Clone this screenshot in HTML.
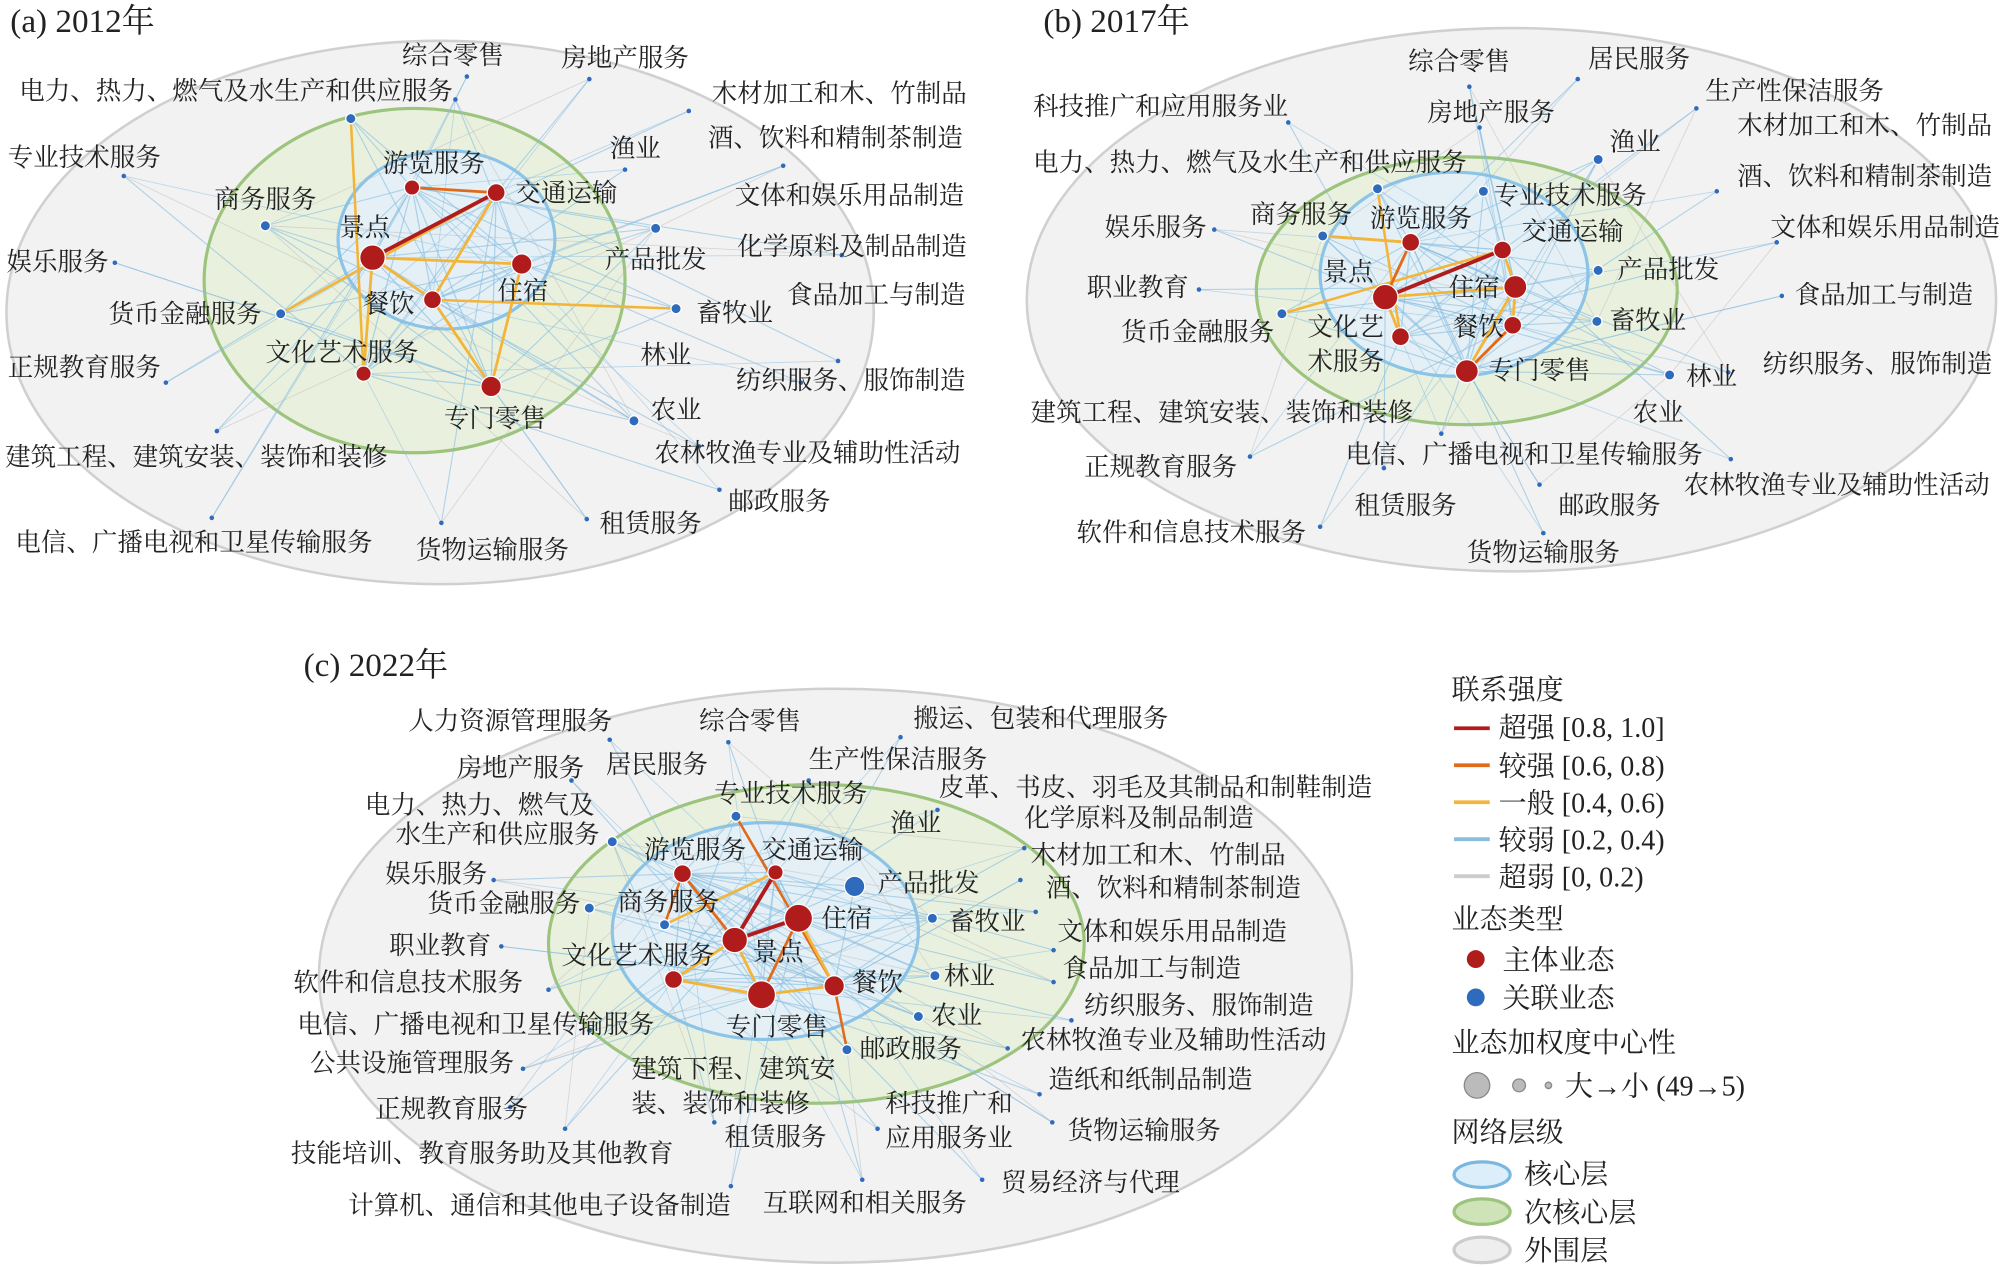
<!DOCTYPE html>
<html><head><meta charset="utf-8"><style>
html,body{margin:0;padding:0;background:#fff}
svg{display:block}
text{font-family:"Liberation Serif","Noto Serif CJK SC",serif;font-size:20px;fill:#222}
.t{font-size:26px}
.h{font-size:22px}
</style></head><body>
<svg id="s" width="2000" height="1267" viewBox="0 0 1568 993.4" xmlns="http://www.w3.org/2000/svg">
<ellipse cx="345" cy="245" rx="340" ry="213" fill="#f2f2f2" stroke="#d0d0d0" stroke-width="2"/>
<ellipse cx="325" cy="220" rx="165" ry="135" fill="#e9f1de" stroke="#9cc47c" stroke-width="2.5"/>
<ellipse cx="350" cy="188" rx="85" ry="70" fill="#e4f0f6" stroke="#8cc4e8" stroke-width="2.5"/>

<ellipse cx="1185" cy="235" rx="380" ry="213" fill="#f2f2f2" stroke="#d0d0d0" stroke-width="2"/>
<ellipse cx="1150" cy="228" rx="165" ry="105" fill="#e9f1de" stroke="#9cc47c" stroke-width="2.5"/>
<ellipse cx="1140" cy="215" rx="105" ry="80" fill="#e4f0f6" stroke="#8cc4e8" stroke-width="2.5"/>

<ellipse cx="655" cy="765" rx="405" ry="225" fill="#f2f2f2" stroke="#d0d0d0" stroke-width="2"/>
<ellipse cx="640" cy="740" rx="210" ry="125" fill="#e9f1de" stroke="#9cc47c" stroke-width="2.5"/>
<ellipse cx="600" cy="730" rx="120" ry="85" fill="#e4f0f6" stroke="#8cc4e8" stroke-width="2.5"/>
<g id="edges"></g>
<g id="nodes"></g>

<text class="t" x="8" y="25">(a) 2012年</text>
<text x="315" y="50">综合零售</text><text x="440" y="52">房地产服务</text>
<text x="15" y="78">电力、热力、燃气及水生产和供应服务</text>
<text x="558" y="80">木材加工和木、竹制品</text><text x="555" y="115">酒、饮料和精制茶制造</text>
<text x="478" y="123">渔业</text><text x="6" y="130">专业技术服务</text><text x="300" y="135">游览服务</text>
<text x="404" y="158">交通运输</text><text x="576" y="160">文体和娱乐用品制造</text>
<text x="168" y="163">商务服务</text><text x="266" y="185">景点</text><text x="5" y="212">娱乐服务</text>
<text x="474" y="210">产品批发</text><text x="578" y="200">化学原料及制品制造</text>
<text x="390" y="235">住宿</text><text x="617" y="238">食品加工与制造</text><text x="285" y="245">餐饮</text>
<text x="85" y="253">货币金融服务</text><text x="546" y="252">畜牧业</text><text x="208" y="283">文化艺术服务</text>
<text x="502" y="285">林业</text><text x="6" y="295">正规教育服务</text><text x="577" y="305">纺织服务、服饰制造</text>
<text x="510" y="328">农业</text><text x="348" y="335">专门零售</text>
<text x="4" y="365">建筑工程、建筑安装、装饰和装修</text><text x="513" y="362">农林牧渔专业及辅助性活动</text>
<text x="571" y="400">邮政服务</text><text x="470" y="417">租赁服务</text>
<text x="12" y="432">电信、广播电视和卫星传输服务</text><text x="326" y="438">货物运输服务</text>

<text class="t" x="818" y="25">(b) 2017年</text>
<text x="1104" y="55">综合零售</text><text x="1245" y="53">居民服务</text><text x="1337" y="78">生产性保洁服务</text>
<text x="810" y="90">科技推广和应用服务业</text><text x="1119" y="95">房地产服务</text>
<text x="1362" y="105">木材加工和木、竹制品</text><text x="1262" y="118">渔业</text>
<text x="810" y="134">电力、热力、燃气及水生产和供应服务</text><text x="1362" y="145">酒、饮料和精制茶制造</text>
<text x="1171" y="160">专业技术服务</text><text x="980" y="175">商务服务</text><text x="1074" y="178">游览服务</text>
<text x="866" y="185">娱乐服务</text><text x="1193" y="188">交通运输</text><text x="1388" y="185">文体和娱乐用品制造</text>
<text x="1268" y="218">产品批发</text><text x="1037" y="220">景点</text><text x="1136" y="232">住宿</text>
<text x="852" y="232">职业教育</text><text x="1407" y="238">食品加工与制造</text><text x="1025" y="263">文化艺</text>
<text x="879" y="267">货币金融服务</text><text x="1139" y="263">餐饮</text><text x="1262" y="258">畜牧业</text>
<text x="1025" y="290">术服务</text><text x="1382" y="292">纺织服务、服饰制造</text><text x="1167" y="297">专门零售</text>
<text x="1322" y="302">林业</text><text x="808" y="330">建筑工程、建筑安装、装饰和装修</text><text x="1280" y="330">农业</text>
<text x="1055" y="363">电信、广播电视和卫星传输服务</text><text x="850" y="373">正规教育服务</text>
<text x="1320" y="387">农林牧渔专业及辅助性活动</text><text x="1062" y="403">租赁服务</text><text x="1222" y="403">邮政服务</text>
<text x="844" y="424">软件和信息技术服务</text><text x="1150" y="440">货物运输服务</text>

<text class="t" x="238" y="530">(c) 2022年</text>
<text x="320" y="572">人力资源管理服务</text><text x="548" y="572">综合零售</text><text x="716" y="570">搬运、包装和代理服务</text>
<text x="358" y="609">房地产服务</text><text x="475" y="606">居民服务</text><text x="634" y="602">生产性保洁服务</text>
<text x="286" y="638">电力、热力、燃气及</text><text x="310" y="661">水生产和供应服务</text><text x="560" y="629">专业技术服务</text>
<text x="736" y="624">皮革、书皮、羽毛及其制品和制鞋制造</text><text x="803" y="648">化学原料及制品制造</text>
<text x="698" y="652">渔业</text><text x="505" y="673">游览服务</text><text x="597" y="673">交通运输</text>
<text x="808" y="677">木材加工和木、竹制品</text><text x="302" y="692">娱乐服务</text><text x="688" y="699">产品批发</text>
<text x="820" y="703">酒、饮料和精制茶制造</text><text x="335" y="715">货币金融服务</text><text x="484" y="714">商务服务</text>
<text x="644" y="727">住宿</text><text x="744" y="729">畜牧业</text><text x="829" y="737">文体和娱乐用品制造</text>
<text x="305" y="748">职业教育</text><text x="440" y="756">文化艺术服务</text><text x="590" y="753">景点</text>
<text x="833" y="766">食品加工与制造</text><text x="230" y="777">软件和信息技术服务</text><text x="668" y="777">餐饮</text>
<text x="740" y="772">林业</text><text x="850" y="795">纺织服务、服饰制造</text><text x="233" y="810">电信、广播电视和卫星传输服务</text>
<text x="569" y="812">专门零售</text><text x="730" y="803">农业</text><text x="800" y="822">农林牧渔专业及辅助性活动</text>
<text x="243" y="840">公共设施管理服务</text><text x="674" y="829">邮政服务</text><text x="495" y="845">建筑下程、建筑安</text>
<text x="495" y="872">装、装饰和装修</text><text x="822" y="853">造纸和纸制品制造</text><text x="294" y="876">正规教育服务</text>
<text x="694" y="872">科技推广和</text><text x="694" y="899">应用服务业</text><text x="568" y="898">租赁服务</text>
<text x="837" y="893">货物运输服务</text><text x="228" y="911">技能培训、教育服务助及其他教育</text>
<text x="785" y="934">贸易经济与代理</text><text x="273" y="952">计算机、通信和其他电子设备制造</text><text x="598" y="950">互联网和相关服务</text>

<text class="h" x="1138" y="548">联系强度</text>
<line x1="1140" y1="571" x2="1168" y2="571" stroke="#b01c1c" stroke-width="3"/><text class="h" x="1175" y="578">超强 [0.8, 1.0]</text>
<line x1="1140" y1="600" x2="1168" y2="600" stroke="#e06a1a" stroke-width="3"/><text class="h" x="1175" y="608">较强 [0.6, 0.8)</text>
<line x1="1140" y1="629" x2="1168" y2="629" stroke="#f2b53a" stroke-width="3"/><text class="h" x="1175" y="637">一般 [0.4, 0.6)</text>
<line x1="1140" y1="658" x2="1168" y2="658" stroke="#88bde0" stroke-width="3"/><text class="h" x="1175" y="666">较弱 [0.2, 0.4)</text>
<line x1="1140" y1="687" x2="1168" y2="687" stroke="#cccccc" stroke-width="3"/><text class="h" x="1175" y="695">超弱 [0, 0.2)</text>
<text class="h" x="1138" y="728">业态类型</text>
<circle cx="1157" cy="752" r="7" fill="#b01c1c"/><text class="h" x="1178" y="760">主体业态</text>
<circle cx="1157" cy="782" r="7" fill="#2e6bbd"/><text class="h" x="1178" y="790">关联业态</text>
<text class="h" x="1138" y="825">业态加权度中心性</text>
<circle cx="1158" cy="851" r="10" fill="#bbb" stroke="#888"/><circle cx="1191" cy="851" r="5" fill="#bbb" stroke="#888"/><circle cx="1214" cy="851" r="2.5" fill="#bbb" stroke="#888"/>
<text class="h" x="1227" y="859">大→小 (49→5)</text>
<text class="h" x="1138" y="895">网络层级</text>
<ellipse cx="1162" cy="921" rx="22" ry="10" fill="#dceefa" stroke="#7ab8e0" stroke-width="2.5"/><text class="h" x="1195" y="928">核心层</text>
<ellipse cx="1162" cy="950" rx="22" ry="10" fill="#cfe3b8" stroke="#9cc47c" stroke-width="2.5"/><text class="h" x="1195" y="958">次核心层</text>
<ellipse cx="1162" cy="980" rx="22" ry="10" fill="#eeeeee" stroke="#cccccc" stroke-width="2.5"/><text class="h" x="1195" y="988">外围层</text>
</svg>
<script>
var NS="http://www.w3.org/2000/svg",E=document.getElementById("edges"),N=document.getElementById("nodes");
function ln(a,b,c,w,o){var l=document.createElementNS(NS,"line");l.setAttribute("x1",a[0]);l.setAttribute("y1",a[1]);l.setAttribute("x2",b[0]);l.setAttribute("y2",b[1]);l.setAttribute("stroke",c);l.setAttribute("stroke-width",w);l.setAttribute("opacity",o||0.6);E.appendChild(l);}
function ci(p,r,c){var k=document.createElementNS(NS,"circle");k.setAttribute("cx",p[0]);k.setAttribute("cy",p[1]);k.setAttribute("r",r);k.setAttribute("fill",c);k.setAttribute("stroke","#fff");k.setAttribute("stroke-width",r>3?1:0);N.appendChild(k);}
var R="#b01c1c",B="#2e6bbd",O="#e06a1a",Y="#f2b53a",L="#88bde0";
var P=[
 {hub:[[323,147,6],[389,151,7],[292,202,10],[409,207,8],[339,235,7],[285,293,6],[385,303,8]],
  blue:[[275,93],[208,177],[220,246],[514,179],[530,242],[497,330]],
  dots:[[366,60],[462,62],[540,87],[614,130],[490,133],[97,138],[90,206],[660,200],[657,283],[170,338],[628,300],[548,350],[564,384],[460,407],[166,406],[346,410],[130,300],[357,78]],
  strong:[[0,1,O],[2,1,R],[2,3,Y],[2,4,Y],[1,4,Y],[4,6,Y],[3,6,Y],[2,5,Y]],yb:[[4,4,Y],[2,1,Y],[6,5,Y]]},
 {hub:[[1106,190,7],[1178,196,7],[1086,233,10],[1188,225,9],[1186,255,7],[1098,264,7],[1150,291,9]],
  blue:[[1253,212],[1252,252],[1163,150],[1037,185],[1005,246],[1309,294],[1080,148],[1253,125]],
  dots:[[1237,62],[1330,85],[1010,96],[1160,100],[1346,150],[1393,190],[1397,232],[1355,292],[1357,360],[952,180],[940,227],[980,358],[1035,413],[1207,380],[1210,418],[1130,340],[1085,367],[1152,68]],
  strong:[[2,1,R],[0,2,O],[3,4,Y],[2,3,Y],[6,3,Y],[4,6,O],[5,2,Y],[1,3,Y]],yb:[[3,0,Y],[4,1,Y],[6,5,Y],[3,0,Y]]},
 {hub:[[535,685,7],[608,684,6],[626,720,11],[576,737,10],[528,768,7],[597,780,11],[654,773,8]],
  blue:[[670,695,8],[731,720],[521,725],[733,765],[720,797],[577,640],[664,823],[480,660],[462,712]],
  dots:[[478,580],[571,582],[706,578],[634,612],[735,635],[803,665],[800,690],[812,715],[826,745],[826,770],[840,800],[790,822],[815,858],[825,880],[770,925],[676,925],[573,930],[443,885],[400,868],[410,838],[393,742],[387,690],[462,808],[430,776],[688,885],[560,880],[448,612]],
  strong:[[3,2,R],[5,2,O],[3,5,Y],[4,5,Y],[0,3,O],[2,6,Y],[6,5,Y],[1,3,R],[4,3,Y]],yb:[[2,0,O],[2,1,Y],[5,6,O],[6,6,O]]}
];
P.forEach(function(p,pi){
 var H=p.hub.map(function(h){return [h[0],h[1]]});
 p.dots.forEach(function(d,i){ln(d,H[i%7],L,0.9);ln(d,H[(i*3+2)%7],L,0.7,0.5);if(i%2)ln(d,[p.blue[i%p.blue.length][0],p.blue[i%p.blue.length][1]],"#bbb",0.7,0.5);});
 p.blue.forEach(function(b,i){for(var j=0;j<7;j+=(i%2?2:3))ln(b,H[j],L,0.9);});
 for(var i=0;i<7;i++)for(var j=i+1;j<7;j++)ln(H[i],H[j],L,1);
 p.yb.forEach(function(s){var b=p.blue[s[0]%p.blue.length];ln([b[0],b[1]],H[s[1]],s[2],2,1);});
 p.strong.forEach(function(s){ln(H[s[0]],H[s[1]],s[2],s[2]==R?3:2.2,1);});
 p.dots.forEach(function(d){ci(d,1.8,B);});
 p.blue.forEach(function(b){ci(b,b[2]||4,B);});
 p.hub.forEach(function(h){ci(h,h[2],R);});
});
</script>
</body></html>
